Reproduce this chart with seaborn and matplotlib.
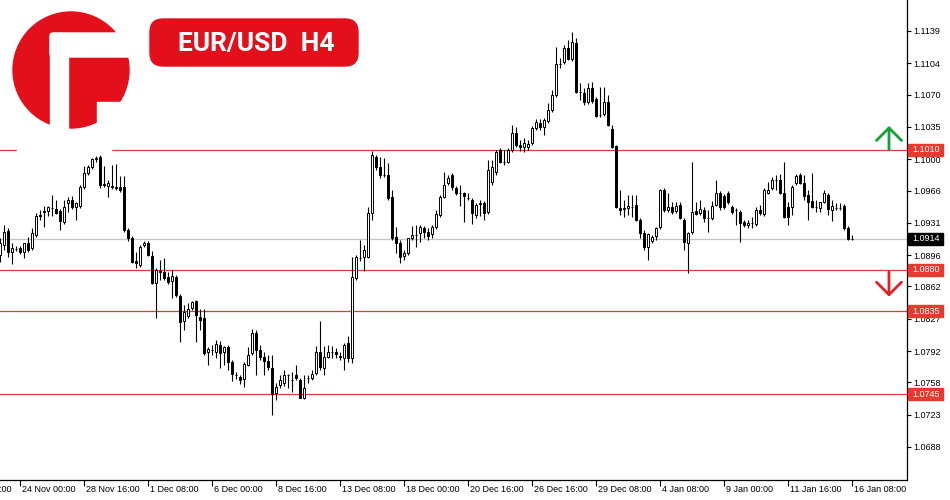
import numpy as np
import pandas as pd
import matplotlib
matplotlib.use("Agg")
import matplotlib.pyplot as plt
import seaborn as sns
from matplotlib.patches import Rectangle, Circle, FancyBboxPatch

# EUR/USD H4 candles, first bar is 5 bars before 24 Nov 00:00
first_bar = -5

open_ = [
    1.0896, 1.0907, 1.0922, 1.0899, 1.0903, 1.0904, 1.0899, 1.0909, 1.0904, 1.0918,
    1.0940, 1.0944, 1.0944, 1.0947, 1.0946, 1.0944, 1.0932, 1.0953, 1.0956, 1.0948,
    1.0949, 1.0970, 1.0985, 1.0992, 1.1000, 1.1002, 1.0973, 1.0971, 1.0971, 1.0970,
    1.0970, 1.0970, 1.0923, 1.0915, 1.0890, 1.0885, 1.0907, 1.0909, 1.0895, 1.0866,
    1.0879, 1.0878, 1.0872, 1.0868, 1.0872, 1.0852, 1.0825, 1.0830, 1.0839, 1.0846,
    1.0829, 1.0828, 1.0791, 1.0793, 1.0791, 1.0799, 1.0791, 1.0796, 1.0780, 1.0766,
    1.0764, 1.0762, 1.0777, 1.0790, 1.0812, 1.0793, 1.0786, 1.0781, 1.0774, 1.0747,
    1.0755, 1.0757, 1.0766, 1.0761, 1.0766, 1.0761, 1.0741, 1.0763, 1.0763, 1.0768,
    1.0791, 1.0774, 1.0786, 1.0791, 1.0791, 1.0787, 1.0785, 1.0801, 1.0785, 1.0871,
    1.0893, 1.0894, 1.0894, 1.0942, 1.1002, 1.0992, 1.0983, 1.0983, 1.0959, 1.0916,
    1.0909, 1.0895, 1.0898, 1.0915, 1.0918, 1.0920, 1.0925, 1.0921, 1.0919, 1.0927,
    1.0940, 1.0959, 1.0974, 1.0983, 1.0969, 1.0963, 1.0963, 1.0958, 1.0956, 1.0940,
    1.0951, 1.0953, 1.0943, 1.0975, 1.0986, 1.1010, 1.0997, 1.0997, 1.1010, 1.1028,
    1.1015, 1.1013, 1.1013, 1.1018, 1.1034, 1.1039, 1.1035, 1.1041, 1.1053, 1.1070,
    1.1103, 1.1105, 1.1121, 1.1109, 1.1126, 1.1073, 1.1072, 1.1062, 1.1077, 1.1065,
    1.1048, 1.1049, 1.1062, 1.1033, 1.1014, 1.0947, 1.0946, 1.0947, 1.0948, 1.0950,
    1.0934, 1.0920, 1.0905, 1.0911, 1.0917, 1.0927, 1.0967, 1.0945, 1.0948, 1.0944,
    1.0950, 1.0934, 1.0909, 1.0921, 1.0944, 1.0942, 1.0945, 1.0936, 1.0936, 1.0950,
    1.0963, 1.0960, 1.0963, 1.0948, 1.0945, 1.0943, 1.0932, 1.0929, 1.0931, 1.0930,
    1.0945, 1.0941, 1.0963, 1.0969, 1.0977, 1.0977, 1.0963, 1.0948, 1.0948, 1.0974,
    1.0983, 1.0974, 1.0961, 1.0955, 1.0948, 1.0947, 1.0954, 1.0961, 1.0945, 1.0947,
    1.0947, 1.0949, 1.0925, 1.0914,
]
high = [
    1.0915, 1.0929, 1.0925, 1.0909, 1.0906, 1.0906, 1.0909, 1.0916, 1.0925, 1.0942,
    1.0945, 1.0949, 1.0949, 1.0961, 1.0956, 1.0946, 1.0956, 1.0959, 1.0960, 1.0954,
    1.0972, 1.0993, 1.0994, 1.1001, 1.1003, 1.1005, 1.0993, 1.0977, 1.0994, 1.0995,
    1.0982, 1.0982, 1.0925, 1.0917, 1.0899, 1.0907, 1.0911, 1.0911, 1.0901, 1.0882,
    1.0891, 1.0893, 1.0878, 1.0880, 1.0874, 1.0854, 1.0842, 1.0844, 1.0846, 1.0847,
    1.0838, 1.0838, 1.0796, 1.0799, 1.0804, 1.0803, 1.0798, 1.0799, 1.0782, 1.0769,
    1.0766, 1.0780, 1.0796, 1.0816, 1.0815, 1.0799, 1.0791, 1.0788, 1.0788, 1.0757,
    1.0766, 1.0772, 1.0767, 1.0769, 1.0777, 1.0763, 1.0766, 1.0766, 1.0772, 1.0798,
    1.0825, 1.0798, 1.0799, 1.0798, 1.0795, 1.0791, 1.0801, 1.0808, 1.0894, 1.0896,
    1.0912, 1.0907, 1.0948, 1.1009, 1.1005, 1.1002, 1.1001, 1.0996, 1.0967, 1.0927,
    1.0912, 1.0902, 1.0915, 1.0928, 1.0929, 1.0929, 1.0928, 1.0925, 1.0929, 1.0945,
    1.0961, 1.0986, 1.0983, 1.0985, 1.0971, 1.0972, 1.0964, 1.0963, 1.0958, 1.0953,
    1.0956, 1.0955, 1.0999, 1.0999, 1.1010, 1.1012, 1.1010, 1.1012, 1.1037, 1.1035,
    1.1021, 1.1023, 1.1021, 1.1036, 1.1044, 1.1044, 1.1045, 1.1061, 1.1075, 1.1122,
    1.1110, 1.1124, 1.1129, 1.1138, 1.1131, 1.1083, 1.1077, 1.1083, 1.1084, 1.1067,
    1.1078, 1.1078, 1.1070, 1.1037, 1.1015, 1.0967, 1.0956, 1.0961, 1.0961, 1.0961,
    1.0936, 1.0923, 1.0920, 1.0918, 1.0927, 1.0968, 1.0969, 1.0963, 1.0954, 1.0954,
    1.0954, 1.0936, 1.0921, 1.0997, 1.0954, 1.0956, 1.0948, 1.0945, 1.0955, 1.0977,
    1.0966, 1.0962, 1.0966, 1.0950, 1.0947, 1.0945, 1.0934, 1.0934, 1.0937, 1.0948,
    1.0950, 1.0969, 1.0975, 1.0981, 1.0983, 1.0984, 1.0997, 1.0954, 1.0972, 1.0984,
    1.0985, 1.0983, 1.0967, 1.0985, 1.0956, 1.0950, 1.0967, 1.0963, 1.0956, 1.0953,
    1.0953, 1.0951, 1.0928, 1.0918,
]
low = [
    1.0889, 1.0902, 1.0894, 1.0886, 1.0901, 1.0897, 1.0893, 1.0899, 1.0902, 1.0916,
    1.0934, 1.0927, 1.0938, 1.0938, 1.0941, 1.0923, 1.0930, 1.0943, 1.0946, 1.0934,
    1.0947, 1.0968, 1.0983, 1.0989, 1.0997, 1.0969, 1.0970, 1.0959, 1.0968, 1.0967,
    1.0964, 1.0921, 1.0911, 1.0888, 1.0882, 1.0883, 1.0905, 1.0895, 1.0865, 1.0828,
    1.0869, 1.0869, 1.0865, 1.0850, 1.0851, 1.0802, 1.0815, 1.0828, 1.0837, 1.0802,
    1.0815, 1.0788, 1.0777, 1.0788, 1.0785, 1.0774, 1.0777, 1.0772, 1.0759, 1.0762,
    1.0756, 1.0753, 1.0776, 1.0788, 1.0766, 1.0782, 1.0766, 1.0772, 1.0723, 1.0739,
    1.0752, 1.0754, 1.0752, 1.0748, 1.0761, 1.0741, 1.0740, 1.0757, 1.0761, 1.0766,
    1.0772, 1.0766, 1.0785, 1.0785, 1.0785, 1.0782, 1.0772, 1.0780, 1.0779, 1.0869,
    1.0890, 1.0879, 1.0893, 1.0934, 1.0988, 1.0980, 1.0981, 1.0956, 1.0912, 1.0898,
    1.0888, 1.0891, 1.0896, 1.0912, 1.0905, 1.0910, 1.0915, 1.0912, 1.0915, 1.0924,
    1.0937, 1.0958, 1.0972, 1.0967, 1.0961, 1.0949, 1.0932, 1.0956, 1.0930, 1.0936,
    1.0938, 1.0934, 1.0941, 1.0972, 1.0983, 1.0996, 1.0994, 1.0996, 1.1008, 1.1013,
    1.1009, 1.1008, 1.1010, 1.1015, 1.1032, 1.1032, 1.1026, 1.1039, 1.1051, 1.1067,
    1.1099, 1.1103, 1.1108, 1.1106, 1.1072, 1.1064, 1.1059, 1.1060, 1.1061, 1.1046,
    1.1046, 1.1047, 1.1036, 1.1012, 1.0947, 1.0940, 1.0937, 1.0940, 1.0937, 1.0933,
    1.0915, 1.0902, 1.0891, 1.0909, 1.0912, 1.0924, 1.0943, 1.0943, 1.0941, 1.0942,
    1.0935, 1.0902, 1.0877, 1.0919, 1.0940, 1.0940, 1.0932, 1.0921, 1.0934, 1.0949,
    1.0945, 1.0946, 1.0951, 1.0941, 1.0929, 1.0910, 1.0927, 1.0925, 1.0925, 1.0928,
    1.0940, 1.0938, 1.0962, 1.0967, 1.0967, 1.0962, 1.0936, 1.0929, 1.0940, 1.0972,
    1.0973, 1.0956, 1.0934, 1.0947, 1.0943, 1.0943, 1.0953, 1.0940, 1.0933, 1.0945,
    1.0945, 1.0923, 1.0912, 1.0912,
]
close = [
    1.0909, 1.0921, 1.0899, 1.0904, 1.0903, 1.0899, 1.0909, 1.0902, 1.0920, 1.0938,
    1.0938, 1.0943, 1.0948, 1.0947, 1.0942, 1.0933, 1.0948, 1.0956, 1.0948, 1.0953,
    1.0970, 1.0985, 1.0992, 1.1000, 1.1001, 1.0972, 1.0972, 1.0974, 1.0970, 1.0969,
    1.0967, 1.0923, 1.0915, 1.0889, 1.0888, 1.0905, 1.0909, 1.0896, 1.0866, 1.0880,
    1.0878, 1.0871, 1.0867, 1.0873, 1.0853, 1.0824, 1.0834, 1.0838, 1.0845, 1.0831,
    1.0826, 1.0790, 1.0794, 1.0793, 1.0800, 1.0790, 1.0796, 1.0780, 1.0767, 1.0766,
    1.0761, 1.0778, 1.0788, 1.0812, 1.0793, 1.0786, 1.0781, 1.0775, 1.0745, 1.0753,
    1.0761, 1.0766, 1.0766, 1.0761, 1.0763, 1.0741, 1.0752, 1.0763, 1.0767, 1.0791,
    1.0775, 1.0786, 1.0791, 1.0791, 1.0789, 1.0786, 1.0799, 1.0785, 1.0872, 1.0894,
    1.0893, 1.0902, 1.0942, 1.1005, 1.0992, 1.0983, 1.0983, 1.0958, 1.0915, 1.0909,
    1.0894, 1.0898, 1.0915, 1.0918, 1.0918, 1.0927, 1.0921, 1.0917, 1.0927, 1.0941,
    1.0959, 1.0972, 1.0980, 1.0970, 1.0963, 1.0963, 1.0960, 1.0958, 1.0942, 1.0950,
    1.0953, 1.0942, 1.0988, 1.0992, 1.1008, 1.0997, 1.0997, 1.1010, 1.1028, 1.1015,
    1.1013, 1.1018, 1.1016, 1.1034, 1.1040, 1.1035, 1.1042, 1.1053, 1.1070, 1.1103,
    1.1103, 1.1121, 1.1109, 1.1127, 1.1073, 1.1073, 1.1062, 1.1077, 1.1063, 1.1047,
    1.1048, 1.1062, 1.1037, 1.1013, 1.0948, 1.0945, 1.0947, 1.0949, 1.0948, 1.0934,
    1.0920, 1.0905, 1.0919, 1.0916, 1.0925, 1.0967, 1.0945, 1.0948, 1.0943, 1.0949,
    1.0936, 1.0910, 1.0920, 1.0943, 1.0941, 1.0946, 1.0936, 1.0936, 1.0949, 1.0963,
    1.0948, 1.0948, 1.0954, 1.0943, 1.0945, 1.0931, 1.0929, 1.0931, 1.0931, 1.0945,
    1.0942, 1.0967, 1.0967, 1.0977, 1.0977, 1.0963, 1.0937, 1.0937, 1.0970, 1.0982,
    1.0974, 1.0960, 1.0954, 1.0948, 1.0948, 1.0954, 1.0963, 1.0946, 1.0949, 1.0947,
    1.0947, 1.0925, 1.0914, 1.0914,
]

# support / resistance levels and last price
levels = [1.1010, 1.0880, 1.0835, 1.0745]
last_price = 1.0914

y_ticks = [1.1139, 1.1104, 1.1070, 1.1035, 1.1000, 1.0966, 1.0931,
           1.0896, 1.0862, 1.0827, 1.0792, 1.0758, 1.0723, 1.0688]

x_labels = ["21 Nov 08:00", "24 Nov 00:00", "28 Nov 16:00", "1 Dec 08:00",
            "6 Dec 00:00", "8 Dec 16:00", "13 Dec 08:00", "18 Dec 00:00",
            "20 Dec 16:00", "26 Dec 16:00", "29 Dec 08:00", "4 Jan 08:00",
            "9 Jan 00:00", "11 Jan 16:00", "16 Jan 08:00"]
label_step = 16  # one label every 16 H4 bars
first_label_bar = -16

df = pd.DataFrame({"open": open_, "high": high, "low": low, "close": close})
df["bar"] = np.arange(len(df)) + first_bar
df["up"] = df["close"] >= df["open"]

label_bars = first_label_bar + label_step * np.arange(len(x_labels))

sns.set_style("white")
plt.rcParams["font.family"] = ["Liberation Sans", "DejaVu Sans"]

line_red = "#d2412f"
box_red = "#e43a2f"
logo_red = "#e3101c"

fig = plt.figure(figsize=(9.5, 5), dpi=100)
ax = fig.add_axes([0, 0.04, 907 / 950, 0.96])

# candles
ax.vlines(df["bar"], df["low"], df["high"], color="black", lw=0.8, zorder=2)
body_bottom = df[["open", "close"]].min(axis=1)
body_height = (df["close"] - df["open"]).abs()
ax.bar(df["bar"], body_height, bottom=body_bottom, width=0.6,
       color=np.where(df["up"], "white", "black"), edgecolor="black",
       linewidth=0.7, zorder=3)

# level lines
for lv in levels:
    ax.axhline(lv, color=line_red, lw=0.9, zorder=1)
ax.axhline(last_price, color="#c4c4c4", lw=0.9, zorder=1)

ax.set_xlim(-5, 221.75)
ax.set_ylim(1.06522, 1.11726)

# axes, ticks
sns.despine(ax=ax, left=True, top=True, right=False, bottom=False)
for side in ["right", "bottom"]:
    ax.spines[side].set_color("black")
    ax.spines[side].set_linewidth(0.9)

ax.yaxis.tick_right()
ax.set_yticks(y_ticks)
ax.set_yticklabels([f"{v:.4f}" for v in y_ticks])
ax.tick_params(axis="y", right=True, left=False, length=3, width=0.8,
               pad=1.5, labelsize=6.5, colors="black", direction="out")

visible = [b for b in label_bars if -5 <= b <= 221]
ax.set_xticks(visible)
ax.tick_params(axis="x", bottom=True, length=4, width=0.8, colors="black",
               labelbottom=False, direction="out")
for b, txt in zip(label_bars, x_labels):
    ax.annotate(txt, xy=(b, 0), xycoords=("data", "axes fraction"),
                xytext=(1.5, -3.8), textcoords="offset points",
                ha="left", va="top", fontsize=6.5, color="black",
                annotation_clip=False)

# price boxes on the right scale
ytr = ax.get_yaxis_transform()
half_h = 0.00065
for lv in levels:
    ax.add_patch(Rectangle((1.0015, lv - half_h), 0.0385, 2 * half_h,
                           transform=ytr, color=box_red, clip_on=False, zorder=6))
    ax.text(1.0015 + 0.0195, lv, f"{lv:.4f}", transform=ytr, ha="center",
            va="center", color="white", fontsize=6.5, zorder=7, clip_on=False)
ax.add_patch(Rectangle((1.0015, last_price - half_h), 0.0385, 2 * half_h,
                       transform=ytr, color="black", clip_on=False, zorder=6))
ax.text(1.0015 + 0.0195, last_price, f"{last_price:.4f}", transform=ytr,
        ha="center", va="center", color="white", fontsize=6.5, zorder=7,
        clip_on=False)

# direction arrows
arrow_bar = 217.25
ax.annotate("", xy=(arrow_bar, 1.1036), xytext=(arrow_bar, levels[0]),
            arrowprops=dict(arrowstyle="->,head_length=0.45,head_width=0.45",
                            color="#16a03a", lw=2, mutation_scale=20,
                            shrinkA=0, shrinkB=0), zorder=5)
ax.annotate("", xy=(arrow_bar, 1.0851), xytext=(arrow_bar, 1.0878),
            arrowprops=dict(arrowstyle="->,head_length=0.45,head_width=0.45",
                            color="#e0202a", lw=2, mutation_scale=20,
                            shrinkA=0, shrinkB=0), zorder=5)

# logo and title badge (pixel overlay)
ov = fig.add_axes([0, 0, 1, 1])
ov.set_xlim(0, 950)
ov.set_ylim(500, 0)
ov.axis("off")
ov.add_patch(Rectangle((17, 0), 94, 153.5, color="white"))
ov.add_patch(Circle((71, 70), 58, color=logo_red))
ov.add_patch(Rectangle((50, 33), 18, 100, color="white"))
ov.add_patch(FancyBboxPatch((50, 33), 85, 24, boxstyle="round,pad=0,rounding_size=4",
                            color="white"))
ov.add_patch(Rectangle((97, 102), 40, 35, color="white"))
ov.add_patch(FancyBboxPatch((150, 19), 208, 47,
                            boxstyle="round,pad=0,rounding_size=13",
                            color=logo_red))
ov.text(256, 43.5, "EUR/USD  H4", ha="center", va="center", color="white",
        fontsize=19, fontweight="bold", family=["Roboto", "DejaVu Sans"])

fig.savefig("out.png", dpi=100)
